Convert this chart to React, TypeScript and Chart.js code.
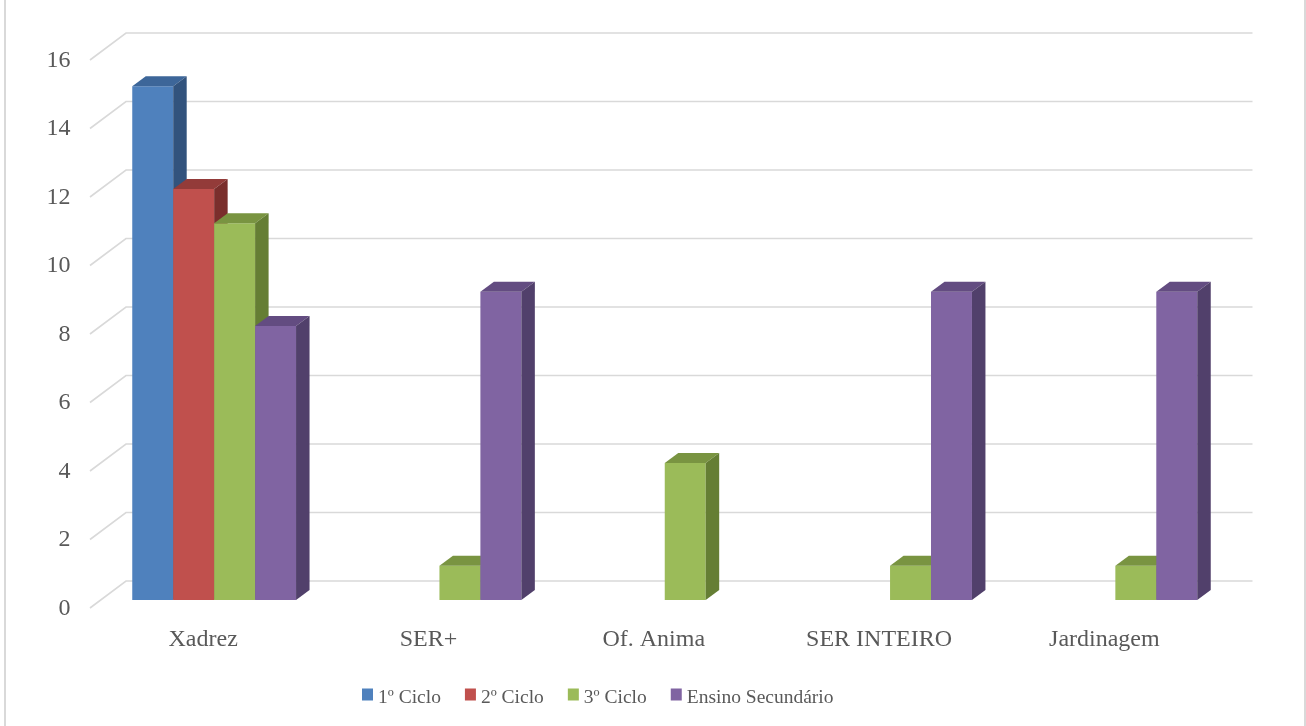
import React, { useEffect, useRef } from "react";
import { Chart, registerables } from "chart.js";

Chart.register(...registerables);

const categories = ["Xadrez", "SER+", "Of. Anima", "SER INTEIRO", "Jardinagem"];
const seriesNames = ["1º Ciclo", "2º Ciclo", "3º Ciclo", "Ensino Secundário"];
const ciclo1 = [15, 0, 0, 0, 0];
const ciclo2 = [12, 0, 0, 0, 0];
const ciclo3 = [11, 1, 4, 1, 1];
const secundario = [8, 9, 0, 9, 9];
const yTicks = [0, 2, 4, 6, 8, 10, 12, 14, 16];

const frontColors = ["#4F81BD", "#C0504D", "#9BBB59", "#8064A2"];
const topColors = ["#3D6699", "#933B39", "#799441", "#634C81"];
const sideColors = ["#32537D", "#7A2E2C", "#657E34", "#51406B"];

const FONT = '"Liberation Serif", "Times New Roman", serif';
const TEXT = "#595959";
const GRID = "#d9d9d9";

// 3D geometry (pixels)
const BAR_DX = 13.5;
const BAR_DY = 10;
const BACK_DX = 24.5;
const BACK_DY = -19;
const FRONT_DX = -11.5;
const FRONT_DY = 8;

const gridPlugin = {
  id: "grid3d",
  beforeDatasetsDraw(chart: any) {
    const { ctx, chartArea, scales } = chart;
    const y = scales.y;
    ctx.save();
    ctx.strokeStyle = GRID;
    ctx.lineWidth = 1.6;
    yTicks.forEach((v) => {
      const py = y.getPixelForValue(v);
      ctx.beginPath();
      ctx.moveTo(chartArea.left + FRONT_DX, py + FRONT_DY);
      ctx.lineTo(chartArea.left + BACK_DX, py + BACK_DY);
      ctx.lineTo(chartArea.right + BACK_DX, py + BACK_DY);
      ctx.stroke();
    });
    ctx.restore();
  },
};

// Draws every bar (front, top, side) category by category, left to right,
// from the positions Chart.js computed for the bar elements.
const bar3dPlugin = {
  id: "bar3d",
  afterDatasetsDraw(chart: any) {
    const { ctx } = chart;
    const n = chart.data.labels.length;
    ctx.save();
    for (let j = 0; j < n; j++) {
      chart.data.datasets.forEach((ds: any, i: number) => {
        if (!ds.data[j]) return;
        const el = chart.getDatasetMeta(i).data[j];
        const { x, y, base, width } = el.getProps(["x", "y", "base", "width"], true);
        const l = x - width / 2;
        const r = x + width / 2;
        ctx.fillStyle = frontColors[i];
        ctx.fillRect(l, y, r - l, base - y);
        ctx.fillStyle = topColors[i];
        ctx.beginPath();
        ctx.moveTo(l, y);
        ctx.lineTo(l + BAR_DX, y - BAR_DY);
        ctx.lineTo(r + BAR_DX, y - BAR_DY);
        ctx.lineTo(r, y);
        ctx.closePath();
        ctx.fill();
        ctx.fillStyle = sideColors[i];
        ctx.beginPath();
        ctx.moveTo(r, y);
        ctx.lineTo(r + BAR_DX, y - BAR_DY);
        ctx.lineTo(r + BAR_DX, base - BAR_DY);
        ctx.lineTo(r, base);
        ctx.closePath();
        ctx.fill();
      });
    }
    ctx.restore();
  },
};

const legendPlugin = {
  id: "legendCustom",
  afterDraw(chart: any) {
    const { ctx } = chart;
    ctx.save();
    ctx.font = `19.5px ${FONT}`;
    ctx.textBaseline = "alphabetic";
    ctx.textAlign = "left";
    let x = 362;
    const baseY = 703;
    seriesNames.forEach((name, i) => {
      ctx.fillStyle = frontColors[i];
      ctx.fillRect(x, 688.5, 11, 12);
      ctx.fillStyle = TEXT;
      ctx.fillText(name, x + 16, baseY);
      x += 16 + ctx.measureText(name).width + 24;
    });
    // outer frame lines
    ctx.fillStyle = GRID;
    ctx.fillRect(4, 0, 2, chart.height);
    ctx.fillRect(chart.width - 2, 0, 2, chart.height);
    ctx.restore();
  },
};

export default function App() {
  const ref = useRef<HTMLCanvasElement>(null);
  useEffect(() => {
    const seriesData = [ciclo1, ciclo2, ciclo3, secundario];
    const chart = new Chart(ref.current as HTMLCanvasElement, {
      type: "bar",
      data: {
        labels: categories,
        datasets: seriesNames.map((name, i) => ({
          label: name,
          data: seriesData[i],
          backgroundColor: "rgba(0,0,0,0)",
          borderWidth: 0,
          barPercentage: 1,
          categoryPercentage: 0.727,
        })),
      },
      options: {
        responsive: false,
        animation: false,
        layout: { padding: { top: 52, left: 0, right: 78, bottom: 0 } },
        plugins: { legend: { display: false }, tooltip: { enabled: false } },
        scales: {
          x: {
            grid: { display: false, drawTicks: false },
            border: { display: false },
            ticks: {
              color: TEXT,
              font: { family: FONT, size: 24 },
              padding: 25,
              labelOffset: -11,
              maxRotation: 0,
            },
            afterFit: (s: any) => {
              s.height = 126;
            },
          },
          y: {
            min: 0,
            max: 16,
            grid: { display: false, drawTicks: false },
            border: { display: false },
            ticks: {
              stepSize: 2,
              color: TEXT,
              font: { family: FONT, size: 24 },
              padding: 31,
              labelOffset: 8.5,
            },
            afterFit: (s: any) => {
              s.width = 101.5;
            },
          },
        },
      },
      plugins: [gridPlugin, bar3dPlugin, legendPlugin],
    });
    return () => chart.destroy();
  }, []);
  return (
    <div style={{ position: "fixed", left: 0, top: 0, width: 1306, height: 726, background: "#fff" }}>
      <canvas ref={ref} width={1306} height={726} />
    </div>
  );
}
